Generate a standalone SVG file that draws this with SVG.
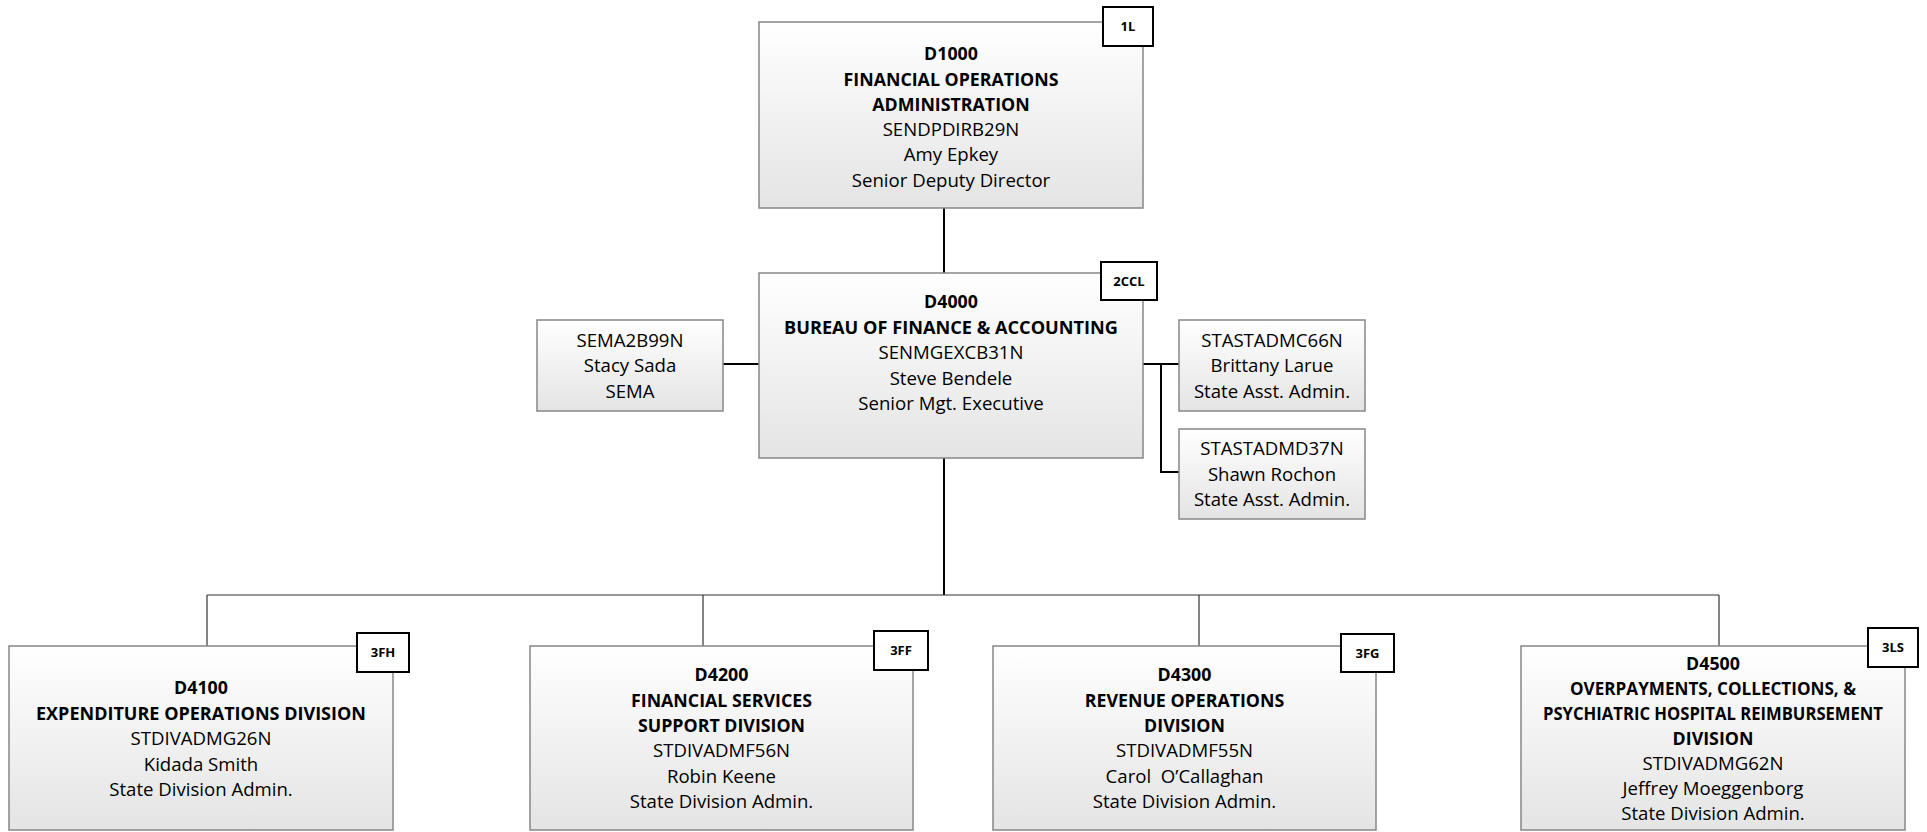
<svg xmlns="http://www.w3.org/2000/svg" width="1927" height="832" viewBox="0 0 1927 832">
<defs>
<linearGradient id="g" x1="0" y1="0" x2="0" y2="1">
<stop offset="0" stop-color="#ffffff"/>
<stop offset="1" stop-color="#e4e4e4"/>
</linearGradient>
<style>
.box{fill:url(#g);stroke:#878787;stroke-width:1.5}
.badge{fill:#ffffff;stroke:#000000;stroke-width:2}
.t{font-family:"Open Sans","Liberation Sans",sans-serif;font-size:18.6px;fill:#000;text-anchor:middle}
.b{font-weight:bold;font-size:17.8px}
.bt{font-family:"Open Sans","Liberation Sans",sans-serif;font-size:13px;font-weight:bold;fill:#000;text-anchor:middle}
.thick{stroke:#000;stroke-width:2;fill:none}
.thin{stroke:#333;stroke-width:1.2;fill:none}
</style>
</defs>
<rect width="1927" height="832" fill="#ffffff"/>

<g id="connectors">
<line class="thick" x1="944" y1="208" x2="944" y2="273"/>
<line class="thick" x1="944" y1="458" x2="944" y2="595"/>
<line class="thick" x1="723" y1="364" x2="759" y2="364"/>
<polyline class="thick" points="1143,364 1179,364"/>
<polyline class="thick" points="1161,364 1161,472 1179,472"/>
<line class="thin" x1="207" y1="595" x2="1719" y2="595"/>
<line class="thin" x1="207" y1="595" x2="207" y2="646"/>
<line class="thin" x1="703" y1="595" x2="703" y2="646"/>
<line class="thin" x1="1199" y1="595" x2="1199" y2="646"/>
<line class="thin" x1="1719" y1="595" x2="1719" y2="646"/>
</g>

<g id="D1000">
<rect class="box" x="759" y="22" width="384" height="186"/>
<text class="t b" x="951" y="60">D1000</text>
<text class="t b" x="951" y="85.5">FINANCIAL OPERATIONS</text>
<text class="t b" x="951" y="110.5">ADMINISTRATION</text>
<text class="t" x="951" y="136">SENDPDIRB29N</text>
<text class="t" x="951" y="161">Amy Epkey</text>
<text class="t" x="951" y="186.5">Senior Deputy Director</text>
<rect class="badge" x="1103" y="7" width="50" height="39"/>
<text class="bt" x="1128" y="31">1L</text>
</g>

<g id="D4000">
<rect class="box" x="759" y="273" width="384" height="185"/>
<text class="t b" x="951" y="308">D4000</text>
<text class="t b" x="951" y="333.5" textLength="334" lengthAdjust="spacingAndGlyphs">BUREAU OF FINANCE &amp; ACCOUNTING</text>
<text class="t" x="951" y="359">SENMGEXCB31N</text>
<text class="t" x="951" y="384.5">Steve Bendele</text>
<text class="t" x="951" y="410">Senior Mgt. Executive</text>
<rect class="badge" x="1101" y="262" width="56" height="38"/>
<text class="bt" x="1129" y="285.5">2CCL</text>
</g>

<g id="SEMA2B99N">
<rect class="box" x="537" y="320" width="186" height="91"/>
<text class="t" x="630" y="346.5">SEMA2B99N</text>
<text class="t" x="630" y="372">Stacy Sada</text>
<text class="t" x="630" y="397.5">SEMA</text>
</g>

<g id="STASTADMC66N">
<rect class="box" x="1179" y="320" width="186" height="91"/>
<text class="t" x="1272" y="346.5">STASTADMC66N</text>
<text class="t" x="1272" y="372">Brittany Larue</text>
<text class="t" x="1272" y="397.5">State Asst. Admin.</text>
</g>

<g id="STASTADMD37N">
<rect class="box" x="1179" y="429" width="186" height="90"/>
<text class="t" x="1272" y="455">STASTADMD37N</text>
<text class="t" x="1272" y="480.5">Shawn Rochon</text>
<text class="t" x="1272" y="506">State Asst. Admin.</text>
</g>

<g id="D4100">
<rect class="box" x="9" y="646" width="384" height="184"/>
<text class="t b" x="201" y="694">D4100</text>
<text class="t b" x="201" y="719.5" textLength="330" lengthAdjust="spacingAndGlyphs">EXPENDITURE OPERATIONS DIVISION</text>
<text class="t" x="201" y="745">STDIVADMG26N</text>
<text class="t" x="201" y="770.5">Kidada Smith</text>
<text class="t" x="201" y="796">State Division Admin.</text>
<rect class="badge" x="357" y="633" width="52" height="39"/>
<text class="bt" x="383" y="657">3FH</text>
</g>

<g id="D4200">
<rect class="box" x="530" y="646" width="383" height="184"/>
<text class="t b" x="721.5" y="681">D4200</text>
<text class="t b" x="721.5" y="706.5">FINANCIAL SERVICES</text>
<text class="t b" x="721.5" y="732">SUPPORT DIVISION</text>
<text class="t" x="721.5" y="757">STDIVADMF56N</text>
<text class="t" x="721.5" y="782.5">Robin Keene</text>
<text class="t" x="721.5" y="808">State Division Admin.</text>
<rect class="badge" x="874" y="631" width="54" height="39"/>
<text class="bt" x="901" y="655">3FF</text>
</g>

<g id="D4300">
<rect class="box" x="993" y="646" width="383" height="184"/>
<text class="t b" x="1184.5" y="681">D4300</text>
<text class="t b" x="1184.5" y="706.5">REVENUE OPERATIONS</text>
<text class="t b" x="1184.5" y="732">DIVISION</text>
<text class="t" x="1184.5" y="757">STDIVADMF55N</text>
<text class="t" x="1184.5" y="782.5">Carol&#160; O’Callaghan</text>
<text class="t" x="1184.5" y="808">State Division Admin.</text>
<rect class="badge" x="1341" y="634" width="53" height="38"/>
<text class="bt" x="1367.5" y="657.5">3FG</text>
</g>

<g id="D4500">
<rect class="box" x="1521" y="646" width="384" height="184"/>
<text class="t b" x="1713" y="670">D4500</text>
<text class="t b" x="1713" y="695" textLength="286" lengthAdjust="spacingAndGlyphs">OVERPAYMENTS, COLLECTIONS, &amp;</text>
<text class="t b" x="1713" y="720" textLength="340" lengthAdjust="spacingAndGlyphs">PSYCHIATRIC HOSPITAL REIMBURSEMENT</text>
<text class="t b" x="1713" y="745">DIVISION</text>
<text class="t" x="1713" y="770">STDIVADMG62N</text>
<text class="t" x="1713" y="795">Jeffrey Moeggenborg</text>
<text class="t" x="1713" y="820">State Division Admin.</text>
<rect class="badge" x="1868" y="628" width="50" height="39"/>
<text class="bt" x="1893" y="652">3LS</text>
</g>
</svg>
